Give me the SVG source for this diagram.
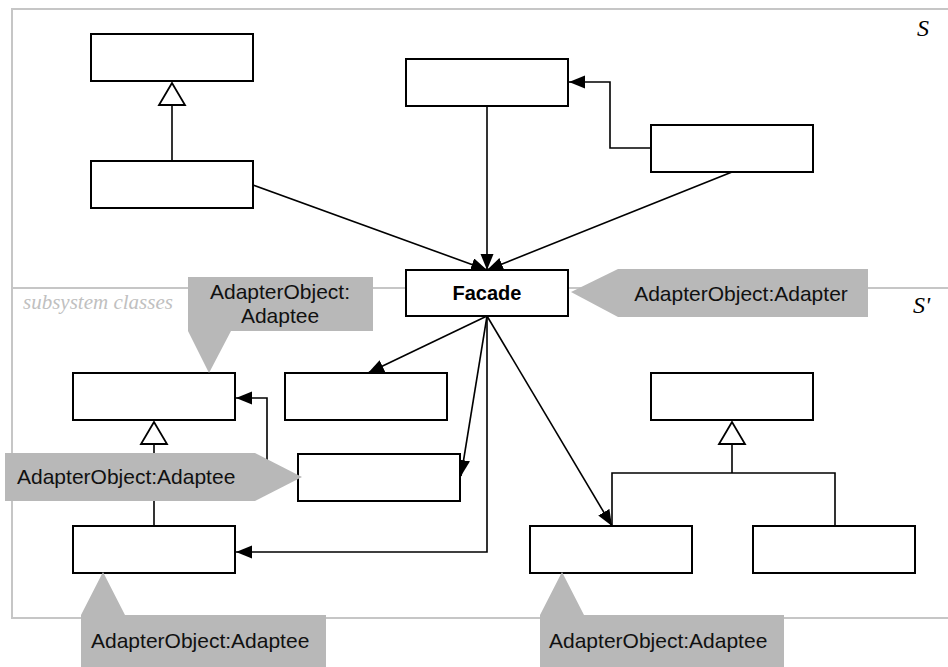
<svg xmlns="http://www.w3.org/2000/svg" width="948" height="667" viewBox="0 0 948 667">
  <style>
    .frame { fill: none; stroke: #c6c6c6; stroke-width: 2; }
    .box { fill: #ffffff; stroke: #000000; stroke-width: 2; }
    .line { fill: none; stroke: #000000; stroke-width: 1.6; }
    .arrow { fill: none; stroke: #000000; stroke-width: 1.6; marker-end: url(#head); }
    .gen { fill: #ffffff; stroke: #000000; stroke-width: 1.8; }
    .note { fill: #b8b8b8; stroke: none; }
    .noteText { font-family: "Liberation Sans", Arial, sans-serif; font-size: 21px; fill: #111111; }
    .title { font-family: "Liberation Sans", Arial, sans-serif; font-size: 20px; font-weight: bold; fill: #000000; }
    .sys { font-family: "Liberation Serif", "Times New Roman", serif; font-style: italic; font-size: 24px; fill: #000000; }
    .sub { font-family: "Liberation Serif", "Times New Roman", serif; font-style: italic; font-size: 21px; fill: #c0c0c0; }
  </style>
  <defs>
    <marker id="head" markerUnits="userSpaceOnUse" markerWidth="18" markerHeight="14" refX="16" refY="6.5" orient="auto">
      <path d="M0,0 L16,6.5 L0,13 z" fill="#000000"/>
    </marker>
  </defs>

  <rect width="948" height="667" fill="#ffffff"/>

  <!-- system frame S / S' -->
  <g id="frame">
    <polyline class="frame" points="960,9 12,9 12,618 960,618"/>
    <line class="frame" x1="12" y1="288" x2="960" y2="288"/>
    <text class="sys" x="917" y="36">S</text>
    <text class="sys" x="913" y="313">S'</text>
    <text class="sub" x="23" y="309">subsystem classes</text>
  </g>

  <!-- connectors -->
  <g id="connectors">
    <!-- generalization, top left -->
    <line class="line" x1="172" y1="105" x2="172" y2="161"/>
    <polygon class="gen" points="172,83 159,105 185,105"/>
    <!-- into the facade -->
    <line class="arrow" x1="253" y1="185" x2="487" y2="270"/>
    <line class="arrow" x1="487" y1="106" x2="487" y2="270"/>
    <line class="arrow" x1="732" y1="172" x2="487" y2="270"/>
    <polyline class="arrow" points="651,148 610,148 610,82 569,82"/>
    <!-- out of the facade -->
    <line class="arrow" x1="487" y1="316" x2="368" y2="373"/>
    <line class="arrow" x1="487" y1="316" x2="461" y2="476"/>
    <line class="arrow" x1="487" y1="316" x2="612" y2="526"/>
    <polyline class="arrow" points="487,316 487,552 236,552"/>
    <!-- adaptee association -->
    <polyline class="arrow" points="298,477 267,477 267,398 236,398"/>
    <!-- generalization, bottom left -->
    <line class="line" x1="154" y1="444" x2="154" y2="526"/>
    <polygon class="gen" points="154,422 141,444 167,444"/>
    <!-- generalization, bottom right -->
    <polyline class="line" points="612,526 612,473 835,473 835,526"/>
    <line class="line" x1="732" y1="444" x2="732" y2="473"/>
    <polygon class="gen" points="732,422 719,444 745,444"/>
  </g>

  <!-- classes of S -->
  <g id="classA"><rect class="box" x="91" y="34" width="162" height="47"/></g>
  <g id="classB"><rect class="box" x="91" y="161" width="162" height="47"/></g>
  <g id="classC"><rect class="box" x="406" y="59" width="162" height="47"/></g>
  <g id="classD"><rect class="box" x="651" y="125" width="162" height="47"/></g>

  <g id="facade">
    <rect class="box" x="406" y="270" width="162" height="46"/>
    <text class="title" x="487" y="300" text-anchor="middle">Facade</text>
  </g>

  <!-- subsystem classes of S' -->
  <g id="sub1"><rect class="box" x="73" y="373" width="162" height="47"/></g>
  <g id="sub2"><rect class="box" x="285" y="373" width="162" height="47"/></g>
  <g id="sub3"><rect class="box" x="298" y="454" width="162" height="47"/></g>
  <g id="sub4"><rect class="box" x="73" y="526" width="162" height="47"/></g>
  <g id="sub5"><rect class="box" x="651" y="373" width="162" height="47"/></g>
  <g id="sub6"><rect class="box" x="530" y="526" width="162" height="47"/></g>
  <g id="sub7"><rect class="box" x="753" y="526" width="162" height="47"/></g>

  <!-- role callouts -->
  <g id="noteAdapter">
    <polygon class="note" points="571,292 618,269 868,269 868,317 618,317"/>
    <text class="noteText" x="741" y="301" text-anchor="middle">AdapterObject:Adapter</text>
  </g>
  <g id="noteAdapteeTop">
    <polygon class="note" points="188,277 373,277 373,331 231,331 209,373 188,331"/>
    <text class="noteText" x="280" y="299" text-anchor="middle">AdapterObject:</text>
    <text class="noteText" x="280" y="323" text-anchor="middle">Adaptee</text>
  </g>
  <g id="noteAdapteeLeft">
    <polygon class="note" points="5,453 255,453 302,477 255,501 5,501"/>
    <text class="noteText" x="17" y="484">AdapterObject:Adaptee</text>
  </g>
  <g id="noteAdapteeBottomLeft">
    <polygon class="note" points="81,667 81,615 103,572 125,615 326,615 326,667"/>
    <text class="noteText" x="91" y="648">AdapterObject:Adaptee</text>
  </g>
  <g id="noteAdapteeBottomRight">
    <polygon class="note" points="540,667 540,615 562,572 584,615 784,615 784,667"/>
    <text class="noteText" x="549" y="648">AdapterObject:Adaptee</text>
  </g>
</svg>
